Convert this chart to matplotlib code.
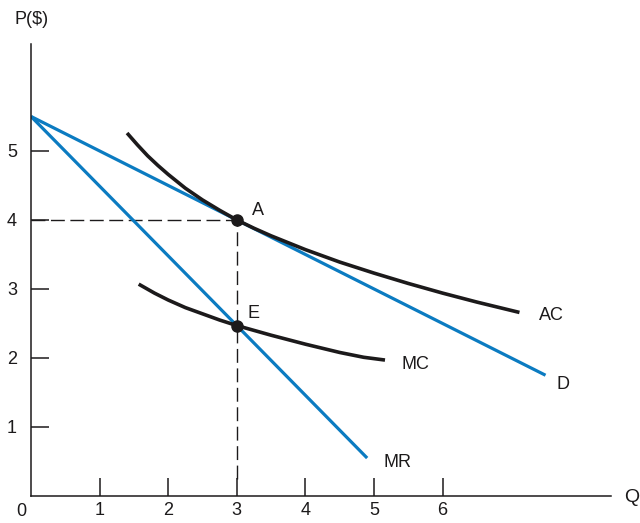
import matplotlib
matplotlib.use("Agg")
import matplotlib.pyplot as plt

plt.rcParams["font.family"] = ["Liberation Sans", "DejaVu Sans"]

# straight lines: demand and marginal revenue
d_q = [0, 7.5]
d_p = [5.5, 1.75]
mr_q = [0, 4.9]
mr_p = [5.5, 0.55]

# cost curves
ac_q = [1.40, 1.55, 1.70, 1.85, 2.00, 2.25, 2.50, 2.75, 3.00, 3.25, 3.50, 4.00, 4.50, 5.00, 5.50, 6.00, 6.50, 7.12]
ac_p = [5.26, 5.09, 4.93, 4.79, 4.66, 4.46, 4.29, 4.14, 4.00, 3.88, 3.77, 3.57, 3.39, 3.23, 3.08, 2.94, 2.81, 2.66]
mc_q = [1.57, 1.80, 2.00, 2.25, 2.50, 2.75, 3.00, 3.25, 3.50, 4.00, 4.50, 4.85, 5.16]
mc_p = [3.07, 2.94, 2.84, 2.73, 2.64, 2.55, 2.47, 2.40, 2.33, 2.20, 2.08, 2.01, 1.97]

points_q = [3, 3]
points_p = [4.0, 2.47]

x_ticks = [1, 2, 3, 4, 5, 6]
y_ticks = [1, 2, 3, 4, 5]

BLUE = "#0b7bc1"
BLACK = "#1c1a1b"

fig = plt.figure(figsize=(6.4, 5.23), dpi=100)
ax = fig.add_axes([31 / 640, 27 / 523, 579.7 / 640, 452 / 523])
ax.set_xlim(0, 8.45)
ax.set_ylim(0, 6.55)

# dashed guides to A
ax.plot([0, points_q[0]], [points_p[0], points_p[0]], color=BLACK, lw=1.0, dashes=(10, 4))
ax.plot([points_q[0], points_q[0]], [0.25, points_p[0]], color=BLACK, lw=1.0, dashes=(10, 4))

ax.plot(d_q, d_p, color=BLUE, lw=2.3, solid_capstyle="butt")
ax.plot(mr_q, mr_p, color=BLUE, lw=2.3, solid_capstyle="butt")
ax.plot(ac_q, ac_p, color=BLACK, lw=2.6, solid_capstyle="butt", solid_joinstyle="round")
ax.plot(mc_q, mc_p, color=BLACK, lw=2.6, solid_capstyle="butt", solid_joinstyle="round")
ax.plot(points_q, points_p, "o", color=BLACK, ms=8, zorder=5)

fs = 13
ax.text(3.31, 4.13, "A", fontsize=fs, ha="center", va="center", color=BLACK)
ax.text(3.24, 2.65, "E", fontsize=fs, ha="center", va="center", color=BLACK)
ax.text(7.58, 2.61, "AC", fontsize=fs, ha="center", va="center", color=BLACK)
ax.text(5.61, 1.91, "MC", fontsize=fs, ha="center", va="center", color=BLACK)
ax.text(7.76, 1.61, "D", fontsize=fs, ha="center", va="center", color=BLACK)
ax.text(5.34, 0.48, "MR", fontsize=fs, ha="center", va="center", color=BLACK)

fig.text(32 / 640, 1 - 20 / 523, "P($)", fontsize=fs, ha="center", va="center", color=BLACK)
fig.text(632 / 640, 1 - 497 / 523, "Q", fontsize=fs + 1, ha="center", va="center", color=BLACK)
fig.text(21 / 640, 1 - 512 / 523, "0", fontsize=fs, ha="center", va="center", color=BLACK)

for side in ["top", "right"]:
    ax.spines[side].set_visible(False)
for side in ["left", "bottom"]:
    ax.spines[side].set_linewidth(1.1)
    ax.spines[side].set_color(BLACK)

ax.set_xticks(x_ticks)
ax.set_yticks(y_ticks)
ax.set_xticklabels([str(t) for t in x_ticks], fontsize=fs)
ax.set_yticklabels([str(t) for t in y_ticks], fontsize=fs)
ax.tick_params(direction="in", length=13, width=1.1, color=BLACK, labelcolor=BLACK)
ax.tick_params(axis="x", pad=4)
ax.tick_params(axis="y", pad=10)

fig.savefig("out.png", dpi=100)
